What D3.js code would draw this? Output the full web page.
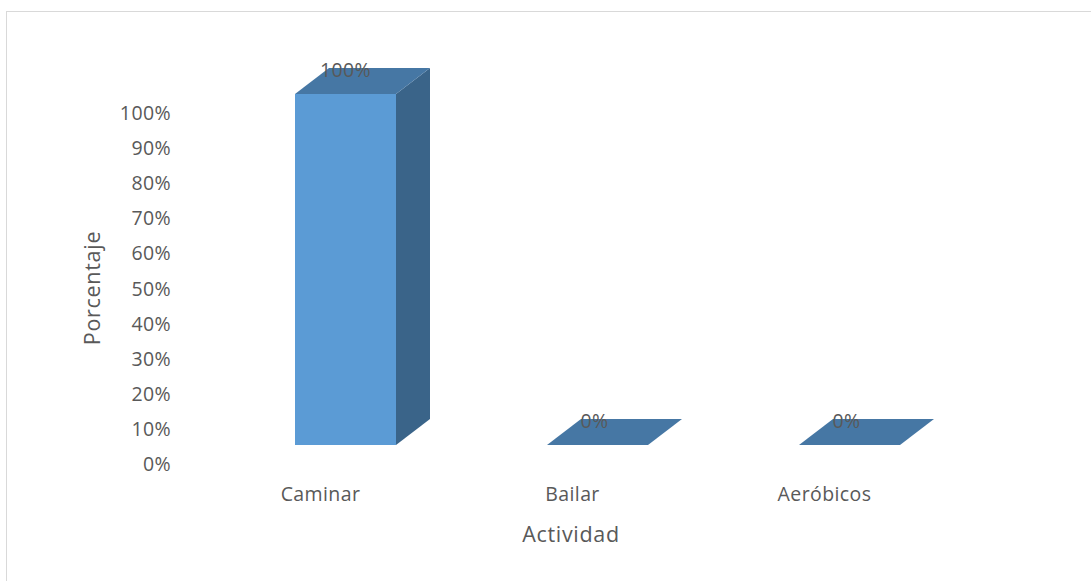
<!DOCTYPE html>
<html><head><meta charset="utf-8">
<script src="https://cdn.jsdelivr.net/npm/d3@7"></script>
<style>body{margin:0;background:#fff}text{font-family:"Open Sans",Lato,sans-serif;fill:#595959}</style>
</head><body>
<svg id="c" width="1091" height="581"></svg>
<script>
const categories = ["Caminar","Bailar","Aeróbicos"];
const values = [1.0, 0, 0];
const valueLabels = ["100%","0%","0%"];
const yTicks = [0,0.1,0.2,0.3,0.4,0.5,0.6,0.7,0.8,0.9,1.0];
const yTitle = "Porcentaje";
const xTitle = "Actividad";

const svg = d3.select("#c");
svg.append("rect").attr("x",6.5).attr("y",11.5).attr("width",1090).attr("height",575)
  .attr("fill","#fff").attr("stroke","#D9D9D9");

const y = d3.scaleLinear().domain([0,1]).range([464,113]);
const x = d3.scalePoint().domain(categories).range([345.5,849.5]);
const frontShift = -19, dx = 34, dy = -26, bw = 101;
const fs = "19.5px", ls = "0.4px";

svg.selectAll(".yt").data(yTicks).join("text")
  .attr("x",171).attr("y",d=>y(d)+7).attr("text-anchor","end")
  .style("font-size",fs).style("letter-spacing",ls).text(d3.format(".0%"));

const g = svg.append("g");
categories.forEach((c,i)=>{
  const v = values[i];
  const xl = x(c)-bw/2, xr = x(c)+bw/2;
  const yb = y(0)+frontShift, yt = y(v)+frontShift;
  if (v>0){
    g.append("path").attr("d",`M${xr},${yb}L${xr+dx},${yb+dy}L${xr+dx},${yt+dy}L${xr},${yt}Z`).attr("fill","#3A6489");
    g.append("path").attr("d",`M${xl},${yt}L${xl+dx},${yt+dy}L${xr+dx},${yt+dy}L${xr},${yt}Z`).attr("fill","#4677A4");
    g.append("rect").attr("x",xl).attr("y",yt).attr("width",bw).attr("height",yb-yt).attr("fill","#5B9BD5");
  } else {
    g.append("path").attr("d",`M${xl},${yb}L${xl+dx},${yb+dy}L${xr+dx},${yb+dy}L${xr},${yb}Z`).attr("fill","#4677A4");
  }
  svg.append("text").attr("x",x(c)+(v>0?0:-3)).attr("y",yt+dy+9).attr("text-anchor","middle")
    .style("font-size",fs).style("letter-spacing",ls).text(valueLabels[i]);
  svg.append("text").attr("x",x(c)-25).attr("y",501).attr("text-anchor","middle")
    .style("font-size",fs).style("letter-spacing",ls).text(c);
});

svg.append("text").attr("transform","translate(100,288) rotate(-90)").attr("text-anchor","middle")
  .style("font-size","21.5px").style("letter-spacing","0.7px").text(yTitle);
svg.append("text").attr("x",571).attr("y",542).attr("text-anchor","middle")
  .style("font-size","21.5px").style("letter-spacing","0.7px").text(xTitle);
</script>
</body></html>
